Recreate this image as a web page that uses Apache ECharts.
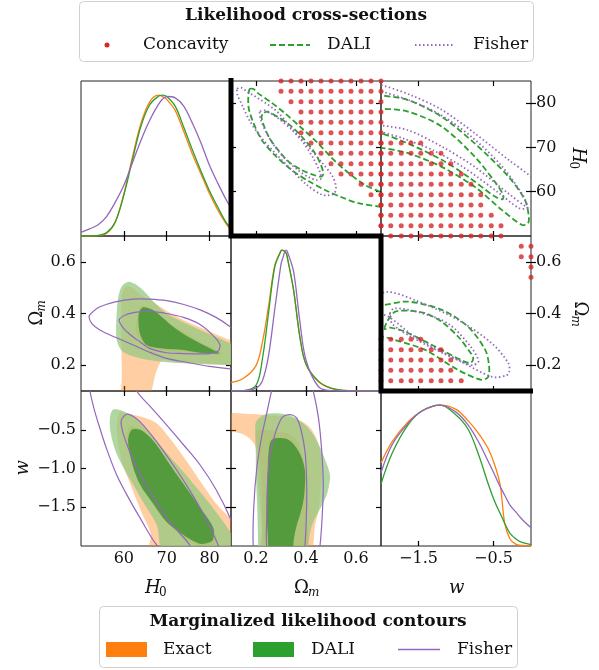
<!DOCTYPE html>
<html>
<head>
<meta charset="utf-8">
<script src="https://cdn.jsdelivr.net/npm/echarts@6.0.0/dist/echarts.min.js"></script>
<style>
html, body { margin: 0; padding: 0; background: #fff; }
#chart { width: 599px; height: 670px; }
</style>
</head>
<body>
<div id="chart"></div>
<script>
// ---------- data ----------
const h0Ticks = [60, 70, 80];
const omTicks = [0.2, 0.4, 0.6];
const wTicksX = [-1.5, -0.5];
const wTicksY = [-1.5, -1.0, -0.5];

// cross-section grid
const h0Grid = [50.00, 52.33, 54.67, 57.00, 59.33, 61.67, 64.00, 66.33, 68.67, 71.00, 73.33, 75.67, 78.00, 80.33, 82.67, 85.00];
const omGrid = [0.10, 0.14, 0.18, 0.22, 0.26, 0.30, 0.34, 0.38, 0.42, 0.46, 0.50, 0.54, 0.58, 0.62, 0.66, 0.70];
const wGrid = [-2.00, -1.87, -1.73, -1.60, -1.47, -1.33, -1.20, -1.07, -0.93, -0.80, -0.67, -0.53, -0.40, -0.27, -0.13, 0.00];

// concave grid points: [row index, first column index, last column index]
const concaveOmH0 = [[1,15,15],[2,15,15],[3,15,15],[4,14,15],[5,13,15],[6,11,15],[7,10,15],[8,9,15],[9,8,15],[10,7,15],[11,7,15],[12,7,15],[13,6,15],[14,5,15],[15,5,15]];
const concaveWH0 = [[0,0,12],[1,0,12],[2,0,11],[3,0,10],[4,0,10],[5,0,9],[6,0,8],[7,0,7],[8,0,6],[9,0,4]];
const concaveWOm = [[1,0,8],[2,0,7],[3,0,7],[4,0,6],[5,0,4],[11,15,15],[12,15,15],[13,14,15],[14,14,15]];

// 1D marginals
const h0Line = [50, 52, 54, 56, 58, 60, 62, 64, 66, 68, 69, 70, 72, 74, 76, 78, 80, 82, 84, 85];
const h0Exact = [0, 0, 0.003, 0.02, 0.1, 0.3, 0.56, 0.8, 0.95, 1.0, 0.99, 0.97, 0.89, 0.74, 0.58, 0.44, 0.3, 0.18, 0.08, 0.04];
const h0Dali = [0, 0, 0.004, 0.025, 0.1, 0.29, 0.54, 0.78, 0.93, 0.99, 1.0, 0.99, 0.92, 0.77, 0.61, 0.46, 0.32, 0.2, 0.09, 0.06];
const h0Fisher = [0.026, 0.05, 0.08, 0.14, 0.24, 0.36, 0.52, 0.68, 0.82, 0.93, 0.97, 0.99, 0.98, 0.92, 0.8, 0.66, 0.5, 0.37, 0.25, 0.2];

const omLine = [0.1, 0.15, 0.2, 0.225, 0.25, 0.275, 0.3, 0.305, 0.32, 0.325, 0.35, 0.375, 0.4, 0.45, 0.5, 0.55, 0.6, 0.7];
const omExact = [0.06, 0.09, 0.18, 0.34, 0.6, 0.89, 0.995, 1.0, 0.98, 0.95, 0.72, 0.39, 0.19, 0.065, 0.018, 0.004, 0.001, 0];
const omDali = [0, 0.003, 0.04, 0.22, 0.55, 0.88, 0.995, 1.0, 0.98, 0.95, 0.72, 0.39, 0.19, 0.07, 0.02, 0.005, 0.001, 0];
const omFisher = [0, 0.001, 0.02, 0.07, 0.25, 0.58, 0.9, 0.93, 1.0, 0.99, 0.85, 0.5, 0.22, 0.03, 0.002, 0, 0, 0];

const wLine = [-2, -1.85, -1.64, -1.45, -1.21, -1.0, -0.84, -0.7, -0.57, -0.48, -0.41, -0.35, -0.28, -0.2, -0.12, 0];
const wExact = [0.59, 0.74, 0.88, 0.96, 1.0, 0.97, 0.89, 0.8, 0.69, 0.57, 0.43, 0.16, 0.05, 0.012, 0.004, 0];
const wDali = [0.44, 0.66, 0.86, 0.96, 1.0, 0.93, 0.83, 0.65, 0.44, 0.31, 0.23, 0.16, 0.09, 0.05, 0.025, 0.01];
const wFisher = [0.52, 0.72, 0.87, 0.96, 1.0, 0.95, 0.86, 0.74, 0.6, 0.5, 0.42, 0.36, 0.29, 0.24, 0.19, 0.13];

// marginalized contours, (H0, Om)
const exact2H0Om = [[60.3,0.504],[62,0.5],[64,0.47],[66.1,0.452],[70,0.41],[73.9,0.375],[78,0.345],[81.5,0.32],[84.8,0.297],[87,0.28],[87,0.19],[84.8,0.2],[80,0.205],[74,0.21],[71.5,0.213],[69,0.22],[67.7,0.18],[67,0.14],[66.5,0.1],[66,0.05],[58,0.05],[59.3,0.1],[59.5,0.207],[59.3,0.336],[59.4,0.4],[59.5,0.465]];
const exact1H0Om = [[64.2,0.43],[66,0.42],[68,0.4],[71.5,0.355],[75,0.32],[78,0.29],[81,0.265],[83,0.25],[82.5,0.24],[78,0.245],[74,0.25],[70,0.255],[66,0.265],[64.6,0.28],[62.8,0.33],[63,0.38],[63.4,0.41]];
const dali2H0Om = [[61,0.523],[62.5,0.515],[64.5,0.49],[67,0.445],[70,0.4],[74,0.365],[77.8,0.336],[81.5,0.31],[84.8,0.285],[87,0.27],[87,0.195],[84.8,0.2],[80,0.203],[73.9,0.207],[68,0.215],[63.8,0.227],[60.5,0.245],[59.1,0.265],[58.3,0.3],[58.2,0.349],[58.4,0.42],[58.7,0.465],[59.5,0.505]];
const dali1H0Om = [[64.5,0.424],[66.9,0.413],[69,0.385],[71.5,0.349],[74.5,0.315],[77.8,0.285],[80.5,0.262],[82.3,0.246],[80,0.245],[77,0.25],[73.9,0.259],[69,0.265],[65.3,0.278],[63.8,0.32],[63.4,0.368],[63.6,0.405]];
const fisher2H0Om = [[51.9,0.39],[53,0.41],[54.4,0.426],[58,0.445],[62.2,0.456],[66,0.456],[70,0.45],[74,0.435],[77.8,0.414],[81.5,0.385],[84.8,0.349],[88.5,0.3],[91,0.245],[90,0.2],[87,0.185],[84.8,0.186],[80,0.195],[75,0.21],[70,0.226],[66,0.25],[62.2,0.278],[58,0.308],[54.4,0.336],[52.5,0.362]];
const fisher1H0Om = [[58.9,0.375],[60.5,0.395],[63,0.405],[66.1,0.408],[70,0.4],[73.9,0.385],[77.5,0.36],[80.5,0.32],[82.4,0.28],[82,0.255],[80,0.245],[77.8,0.244],[74,0.245],[70,0.248],[66,0.265],[63.8,0.29],[61.5,0.318],[59.9,0.343]];

// (H0, w)
const exact2H0W = [[59.1,-0.28],[61.5,-0.3],[64.5,-0.34],[67.7,-0.42],[71,-0.63],[74.7,-0.91],[78.5,-1.22],[81.5,-1.45],[84.8,-1.64],[87,-1.8],[87,-2.1],[66,-2.1],[66.3,-1.85],[64,-1.55],[61.5,-1.2],[59.5,-0.9],[58.5,-0.6],[58.4,-0.4]];
const exact1H0W = [[61.2,-0.47],[63.5,-0.48],[66,-0.58],[68.5,-0.78],[72,-1.05],[75.5,-1.33],[78.5,-1.57],[81.2,-1.8],[81.5,-1.95],[80,-2.0],[77.5,-1.99],[74,-1.9],[70,-1.7],[66.5,-1.43],[63.5,-1.15],[61.5,-0.85],[60.6,-0.6]];
const dali2H0W = [[57.5,-0.24],[59.5,-0.25],[62.2,-0.33],[66,-0.55],[70,-0.8],[74,-1.05],[77.8,-1.3],[81.5,-1.56],[84.8,-1.82],[87,-2.1],[80,-2.1],[69.2,-2.05],[67.7,-1.73],[65,-1.48],[62.2,-1.21],[59.8,-0.98],[57.9,-0.75],[56.8,-0.5],[56.8,-0.33]];
const dali1H0W = [[61.8,-0.5],[63.8,-0.5],[65.8,-0.58],[67.7,-0.7],[71,-0.97],[74.7,-1.26],[78,-1.52],[80.9,-1.77],[80.8,-1.92],[80.1,-1.95],[77.8,-1.97],[74,-1.86],[70,-1.69],[66.8,-1.45],[63.8,-1.21],[62,-0.95],[61,-0.65]];
const fisher2H0W = [[52.1,0],[51.5,0.3],[53,0.55],[56,0.6],[59.5,0.45],[63,0],[66.5,-0.22],[70,-0.44],[74,-0.7],[77.8,-0.955],[81.5,-1.27],[84.8,-1.64],[87,-2.0],[86,-2.4],[82,-2.55],[75,-2.4],[67.7,-1.99],[63.8,-1.64],[60.8,-1.35],[58.3,-1.08],[56,-0.75],[54.4,-0.48],[53,-0.22]];
const fisher1H0W = [[60.7,-0.30],[62.5,-0.34],[64.5,-0.44],[68,-0.68],[71.5,-0.955],[74.8,-1.23],[77.8,-1.51],[80,-1.75],[82,-1.99],[83,-2.25],[81.5,-2.4],[78.5,-2.3],[75.4,-1.99],[72.5,-1.8],[70,-1.64],[66.8,-1.36],[63.8,-1.08],[61.5,-0.8],[59.7,-0.52],[59.4,-0.38]];

// (Om, w)
const exact2OmW = [[0.05,-0.26],[0.1,-0.28],[0.143,-0.29],[0.2,-0.3],[0.276,-0.32],[0.33,-0.34],[0.369,-0.37],[0.41,-0.45],[0.436,-0.57],[0.455,-0.75],[0.463,-1.0],[0.458,-1.3],[0.45,-1.55],[0.436,-1.73],[0.43,-2.0],[0.43,-2.1],[0.229,-2.1],[0.229,-2.0],[0.22,-1.6],[0.209,-1.21],[0.204,-0.95],[0.196,-0.7],[0.156,-0.57],[0.1,-0.52],[0.05,-0.5]];
const exact1OmW = [[0.2,-0.53],[0.235,-0.5],[0.276,-0.52],[0.343,-0.57],[0.375,-0.72],[0.396,-1.0],[0.402,-1.3],[0.403,-1.64],[0.41,-2.0],[0.41,-2.1],[0.229,-2.1],[0.226,-1.7],[0.223,-1.21],[0.212,-0.85]];
const dali2OmW = [[0.2,-0.40],[0.225,-0.32],[0.253,-0.29],[0.316,-0.3],[0.365,-0.36],[0.409,-0.48],[0.445,-0.65],[0.476,-0.88],[0.496,-1.08],[0.492,-1.22],[0.483,-1.34],[0.46,-1.5],[0.436,-1.64],[0.418,-1.8],[0.409,-2.0],[0.405,-2.1],[0.209,-2.1],[0.209,-2.0],[0.205,-1.5],[0.2,-1.1],[0.199,-0.78],[0.197,-0.55]];
const dali1OmW = [[0.263,-0.63],[0.309,-0.61],[0.34,-0.65],[0.363,-0.74],[0.385,-0.88],[0.396,-1.04],[0.395,-1.25],[0.389,-1.43],[0.376,-1.6],[0.363,-1.73],[0.352,-1.9],[0.349,-2.0],[0.347,-2.1],[0.249,-2.1],[0.249,-2.0],[0.244,-1.7],[0.243,-1.43],[0.245,-1.2],[0.247,-1.0],[0.25,-0.8]];
const fisher2OmW = [[0.262,0],[0.29,0.4],[0.34,0.6],[0.39,0.45],[0.429,0],[0.45,-0.35],[0.463,-0.78],[0.469,-1.21],[0.465,-1.6],[0.456,-2.0],[0.43,-2.6],[0.36,-3.0],[0.28,-3.0],[0.21,-2.6],[0.189,-2.0],[0.191,-1.5],[0.203,-1.0],[0.222,-0.6],[0.242,-0.3]];
const fisher1OmW = [[0.323,-0.31],[0.345,-0.31],[0.363,-0.35],[0.38,-0.5],[0.396,-0.78],[0.402,-1.1],[0.403,-1.43],[0.4,-1.75],[0.396,-2.0],[0.39,-2.3],[0.36,-2.55],[0.31,-2.6],[0.27,-2.4],[0.243,-2.0],[0.243,-1.6],[0.246,-1.2],[0.255,-0.85],[0.272,-0.6],[0.289,-0.44],[0.305,-0.34]];

// likelihood cross-sections, (Om, H0)
const daliOutOmH0 = [[0.175,83.2],[0.19,83.2],[0.209,82.2],[0.26,80.2],[0.316,77.7],[0.38,74.5],[0.449,70.9],[0.5,67.8],[0.556,64.9],[0.636,61.5],[0.696,60],[0.75,58.8],[0.78,57],[0.75,55.8],[0.696,56.6],[0.609,57.4],[0.54,58.8],[0.476,60.4],[0.41,62.4],[0.343,64.9],[0.28,68],[0.223,71.7],[0.19,75.5],[0.172,78.5],[0.169,80],[0.17,82]];
const daliInOmH0 = [[0.233,77.8],[0.243,78.1],[0.29,76.8],[0.343,74.7],[0.39,72],[0.436,68.7],[0.46,66],[0.469,64.2],[0.463,63.4],[0.43,63.8],[0.383,64.9],[0.33,66.8],[0.289,69.4],[0.255,72],[0.233,74.7],[0.222,77]];
const fisherOutOmH0 = [[0.125,83.2],[0.14,83.5],[0.16,82.8],[0.276,78.5],[0.34,74.5],[0.409,70.2],[0.465,66.5],[0.507,63.4],[0.52,61],[0.513,59.6],[0.49,59.2],[0.463,59.3],[0.4,61.7],[0.343,64.9],[0.28,68.5],[0.22,72.3],[0.175,76],[0.145,79.5],[0.125,82]];
const fisherInOmH0 = [[0.216,78.1],[0.24,78.3],[0.29,76.5],[0.343,74],[0.39,71],[0.43,67.5],[0.455,64.5],[0.46,63],[0.445,62.6],[0.41,63.3],[0.37,64.8],[0.32,67.2],[0.275,70.2],[0.24,73.5],[0.218,76.5]];

// (w, H0)
const daliOutWH0 = [[-2.3,82.5],[-2.01,81.8],[-1.64,80.7],[-1.19,76.9],[-0.75,70.9],[-0.3,63.4],[-0.08,58.1],[-0.03,54.5],[-0.04,52.9],[-0.12,52.5],[-0.39,55.9],[-0.75,61.1],[-1.19,65.6],[-1.64,68.7],[-2.01,70],[-2.3,71]];
const daliInWH0 = [[-2.3,79.5],[-2.0,78.8],[-1.64,78.1],[-1.19,74.7],[-0.75,67.9],[-0.45,61.5],[-0.37,59.2],[-0.38,58.3],[-0.48,58.9],[-0.84,63.4],[-1.19,67.2],[-1.64,70.9],[-2.0,73.2],[-2.3,74.5]];
const fisherOutWH0 = [[-2.3,85],[-2.0,84.1],[-1.6,81.8],[-1.19,78.5],[-0.75,73.2],[-0.3,67.2],[0.0,63.4],[0.2,60],[0.2,55],[0.0,55.9],[-0.3,59.6],[-0.75,65.6],[-1.19,70.2],[-1.64,73.9],[-2.0,75],[-2.3,76]];
const fisherInWH0 = [[-2.3,83],[-2.0,82.6],[-1.6,80.5],[-1.2,77.3],[-0.8,72.5],[-0.4,66],[-0.12,59.5],[-0.05,56.5],[-0.15,56.2],[-0.45,60],[-0.9,65.5],[-1.3,69.3],[-1.7,72],[-2.0,73.5],[-2.3,74.5]];

// (w, Om)
const daliOutWOm = [[-2.3,0.43],[-1.97,0.433],[-1.64,0.446],[-1.19,0.414],[-0.84,0.349],[-0.61,0.259],[-0.56,0.2],[-0.57,0.155],[-0.66,0.143],[-0.97,0.181],[-1.41,0.259],[-1.81,0.297],[-1.97,0.31],[-2.3,0.32]];
const daliInWOm = [[-1.95,0.34],[-1.92,0.368],[-1.81,0.407],[-1.6,0.41],[-1.41,0.401],[-1.2,0.37],[-0.97,0.31],[-0.8,0.245],[-0.77,0.226],[-0.8,0.21],[-0.88,0.213],[-1.28,0.272],[-1.68,0.33],[-1.88,0.345]];
const fisherOutWOm = [[-2.1,0.45],[-1.92,0.484],[-1.55,0.452],[-0.97,0.375],[-0.52,0.284],[-0.3,0.207],[-0.29,0.175],[-0.33,0.16],[-0.52,0.155],[-0.97,0.22],[-1.55,0.31],[-1.9,0.388],[-2.1,0.41]];
const fisherInWOm = [[-1.88,0.4],[-1.82,0.42],[-1.5,0.405],[-1.1,0.36],[-0.8,0.27],[-0.7,0.215],[-0.78,0.2],[-0.9,0.21],[-1.2,0.25],[-1.6,0.31],[-1.85,0.36]];

// ---------- layout ----------
const FONT = 'DejaVu Serif';
const colLeft = [81, 231, 381];
const rowTop = [81, 236, 391];
const W = 150, H = 155;

const ORANGE = '#ff7f0e', GREEN = '#2ca02c', PURPLE = '#9467bd', RED = '#d62728';

const fmt = (v, d) => (v < 0 ? '\u2212' : '') + Math.abs(v).toFixed(d);
const colAx = [
    { min: 50, max: 85, ticks: h0Ticks, f: v => fmt(v, 0) },
    { min: 0.1, max: 0.7, ticks: omTicks, f: v => fmt(v, 1) },
    { min: -2, max: 0, ticks: wTicksX, f: v => fmt(v, 1) }
];
const rowAx = [
    { min: 50, max: 85, ticks: h0Ticks, f: v => fmt(v, 0) },
    { min: 0.1, max: 0.7, ticks: omTicks, f: v => fmt(v, 1) },
    { min: -2, max: 0, ticks: wTicksY, f: v => fmt(v, 1) }
];

function axis(gi, ax, pos, showTick, showLabel) {
    return {
        type: 'value', gridIndex: gi, position: pos,
        min: ax ? ax.min : 0, max: ax ? ax.max : 1.1,
        axisLine: { show: false }, splitLine: { show: false },
        axisTick: { show: showTick, inside: true, length: 5, customValues: ax ? ax.ticks : undefined,
            lineStyle: { color: '#000', width: 1.2 } },
        axisLabel: { show: showLabel, customValues: ax ? ax.ticks : undefined, formatter: ax ? ax.f : undefined,
            fontFamily: FONT, fontSize: 16, color: '#111', margin: 5 }
    };
}

const grids = [], xAxes = [], yAxes = [], mirrorX = [], mirrorY = [];
for (let r = 0; r < 3; r++) {
    for (let c = 0; c < 3; c++) {
        const g = r * 3 + c;
        grids.push({ left: colLeft[c], top: rowTop[r], width: W, height: H, show: true,
            borderColor: '#222', borderWidth: 1, backgroundColor: 'transparent',
            containLabel: false, outerBoundsMode: 'none' });
        const diag = r === c;
        xAxes.push(axis(g, colAx[c], 'bottom', true, r === 2));
        yAxes.push(axis(g, diag ? null : rowAx[r], 'left', !diag, c === 0 && !diag));
        if (!diag) {
            mirrorX.push(axis(g, colAx[c], 'top', true, false));
            mirrorY.push(axis(g, rowAx[r], 'right', true, c === 2 && r < 2));
        }
    }
}

// ---------- series ----------
const SMOOTH = 0.3;
const series = [];
function fillPoly(g, pts, color) {
    series.push({
        type: 'custom', xAxisIndex: g, yAxisIndex: g, clip: true, silent: true, data: [0],
        renderItem: (params, api) => ({
            type: 'polygon',
            shape: { points: pts.map(p => api.coord(p)), smooth: SMOOTH },
            style: { fill: color, stroke: null }
        })
    });
}
function ringPoly(g, pts, color, dash, width) {
    series.push({
        type: 'custom', xAxisIndex: g, yAxisIndex: g, clip: true, silent: true, data: [0],
        renderItem: (params, api) => ({
            type: 'polygon',
            shape: { points: pts.map(p => api.coord(p)), smooth: SMOOTH },
            style: { fill: 'none', stroke: color, lineWidth: width, lineDash: dash }
        })
    });
}
function curve(g, xs, ys, color) {
    series.push({
        type: 'line', xAxisIndex: g, yAxisIndex: g, clip: true, silent: true,
        showSymbol: false, smooth: 0.35,
        data: xs.map((x, i) => [x, ys[i]]),
        lineStyle: { color: color, width: 1.3 }
    });
}
function concave(g, spec, xs, ys) {
    const pts = [];
    spec.forEach(([row, a, b]) => { for (let i = a; i <= b; i++) pts.push([xs[i], ys[row]]); });
    series.push({ type: 'scatter', xAxisIndex: g, yAxisIndex: g, silent: true, symbolSize: 5,
        itemStyle: { color: RED }, data: pts });
}

const O_LIGHT = 'rgba(255,127,14,0.38)', O_DARK = 'rgba(255,127,14,0.35)';
const G_LIGHT = 'rgba(150,200,130,0.75)', G_DARK = 'rgba(62,146,46,0.82)';

// diagonal
curve(0, h0Line, h0Exact, ORANGE); curve(0, h0Line, h0Dali, GREEN); curve(0, h0Line, h0Fisher, PURPLE);
curve(4, omLine, omExact, ORANGE); curve(4, omLine, omDali, GREEN); curve(4, omLine, omFisher, PURPLE);
curve(8, wLine, wExact, ORANGE); curve(8, wLine, wDali, GREEN); curve(8, wLine, wFisher, PURPLE);

// lower triangle
[[3, exact2H0Om, exact1H0Om, dali2H0Om, dali1H0Om, fisher2H0Om, fisher1H0Om],
 [6, exact2H0W, exact1H0W, dali2H0W, dali1H0W, fisher2H0W, fisher1H0W],
 [7, exact2OmW, exact1OmW, dali2OmW, dali1OmW, fisher2OmW, fisher1OmW]].forEach(([g, e2, e1, d2, d1, f2, f1]) => {
    fillPoly(g, e2, O_LIGHT); fillPoly(g, e1, O_DARK);
    fillPoly(g, d2, G_LIGHT); fillPoly(g, d1, G_DARK);
    ringPoly(g, f2, PURPLE, null, 1.2); ringPoly(g, f1, PURPLE, null, 1.2);
});

// upper triangle
concave(1, concaveOmH0, omGrid, h0Grid);
concave(2, concaveWH0, wGrid, h0Grid);
concave(5, concaveWOm, wGrid, omGrid);
[[1, daliOutOmH0, daliInOmH0, fisherOutOmH0, fisherInOmH0],
 [2, daliOutWH0, daliInWH0, fisherOutWH0, fisherInWH0],
 [5, daliOutWOm, daliInWOm, fisherOutWOm, fisherInWOm]].forEach(([g, d2, d1, f2, f1]) => {
    ringPoly(g, d2, GREEN, [6, 3], 1.8); ringPoly(g, d1, GREEN, [6, 3], 1.8);
    ringPoly(g, f2, PURPLE, [1.5, 2.5], 1.8); ringPoly(g, f1, PURPLE, [1.5, 2.5], 1.8);
});

// ---------- text & decorations ----------
function label(x, y, parts, rot) {
    return { type: 'group', x: x, y: y, rotation: rot || 0, z: 20,
        children: parts.map(p => ({ type: 'text', x: p.dx, y: p.dy || 0,
            style: { text: p.t, fontFamily: FONT, fontSize: p.s || 18, fontStyle: p.it ? 'italic' : 'normal',
                fill: '#111', textAlign: 'left', textVerticalAlign: 'middle' } })) };
}
const H0name = [{ t: 'H', it: true, dx: -11 }, { t: '0', s: 12, dx: 3, dy: 5 }];
const OMname = [{ t: '\u03a9', dx: -12 }, { t: 'm', s: 12, it: true, dx: 2, dy: 5 }];
const Wname = [{ t: 'w', it: true, dx: -7 }];

const bottomY = rowTop[2] + H + 42;
const graphic = [
    label(colLeft[0] + W / 2, bottomY, H0name),
    label(colLeft[1] + W / 2, bottomY, OMname),
    label(colLeft[2] + W / 2, bottomY, Wname),
    label(37, rowTop[1] + H / 2, OMname, Math.PI / 2),
    label(23, rowTop[2] + H / 2, Wname, Math.PI / 2),
    label(578, rowTop[0] + H / 2, H0name, -Math.PI / 2),
    label(580, rowTop[1] + H / 2, OMname, -Math.PI / 2),
    // staircase separating cross-sections from marginals
    { type: 'polyline', z: 30, silent: true,
      shape: { points: [[colLeft[1], rowTop[0] - 3], [colLeft[1], rowTop[1]], [colLeft[2], rowTop[1]],
                        [colLeft[2], rowTop[2]], [colLeft[2] + W + 2, rowTop[2]]] },
      style: { stroke: '#000', lineWidth: 5, fill: null, lineJoin: 'miter' } },
    // top legend
    { type: 'rect', z: 20, shape: { x: 79.5, y: 1.5, width: 454, height: 60, r: 4 },
      style: { fill: '#fff', stroke: '#d0d0d0', lineWidth: 1 } },
    { type: 'text', z: 21, x: 306, y: 16, style: { text: 'Likelihood cross-sections', fontFamily: FONT,
      fontSize: 17, fontWeight: 'bold', fill: '#111', textAlign: 'center', textVerticalAlign: 'middle' } },
    { type: 'circle', z: 21, shape: { cx: 107, cy: 45, r: 2.5 }, style: { fill: RED } },
    { type: 'line', z: 21, shape: { x1: 270, y1: 45, x2: 310, y2: 45 },
      style: { stroke: GREEN, lineWidth: 1.8, lineDash: [6, 3] } },
    { type: 'line', z: 21, shape: { x1: 415, y1: 45, x2: 454, y2: 45 },
      style: { stroke: PURPLE, lineWidth: 1.8, lineDash: [1.5, 2.5] } },
    // bottom legend
    { type: 'rect', z: 20, shape: { x: 99.5, y: 606.5, width: 418, height: 61, r: 4 },
      style: { fill: '#fff', stroke: '#d0d0d0', lineWidth: 1 } },
    { type: 'text', z: 21, x: 308, y: 622, style: { text: 'Marginalized likelihood contours', fontFamily: FONT,
      fontSize: 17, fontWeight: 'bold', fill: '#111', textAlign: 'center', textVerticalAlign: 'middle' } },
    { type: 'rect', z: 21, shape: { x: 106, y: 642, width: 41, height: 15 }, style: { fill: ORANGE } },
    { type: 'rect', z: 21, shape: { x: 253, y: 642, width: 41, height: 15 }, style: { fill: GREEN } },
    { type: 'line', z: 21, shape: { x1: 398, y1: 649.5, x2: 440, y2: 649.5 }, style: { stroke: PURPLE, lineWidth: 1.5 } }
];
[['Concavity', 143, 45], ['DALI', 327, 45], ['Fisher', 473, 45],
 ['Exact', 163, 650], ['DALI', 311, 650], ['Fisher', 457, 650]].forEach(([t, x, y]) => {
    graphic.push({ type: 'text', z: 21, x: x, y: y, style: { text: t, fontFamily: FONT, fontSize: 17,
        fill: '#111', textAlign: 'left', textVerticalAlign: 'middle' } });
});

const chart = echarts.init(document.getElementById('chart'), null, { renderer: 'canvas' });
chart.setOption({
    animation: false,
    backgroundColor: '#fff',
    grid: grids,
    xAxis: xAxes.concat(mirrorX),
    yAxis: yAxes.concat(mirrorY),
    series: series,
    graphic: graphic
});
</script>
</body>
</html>
